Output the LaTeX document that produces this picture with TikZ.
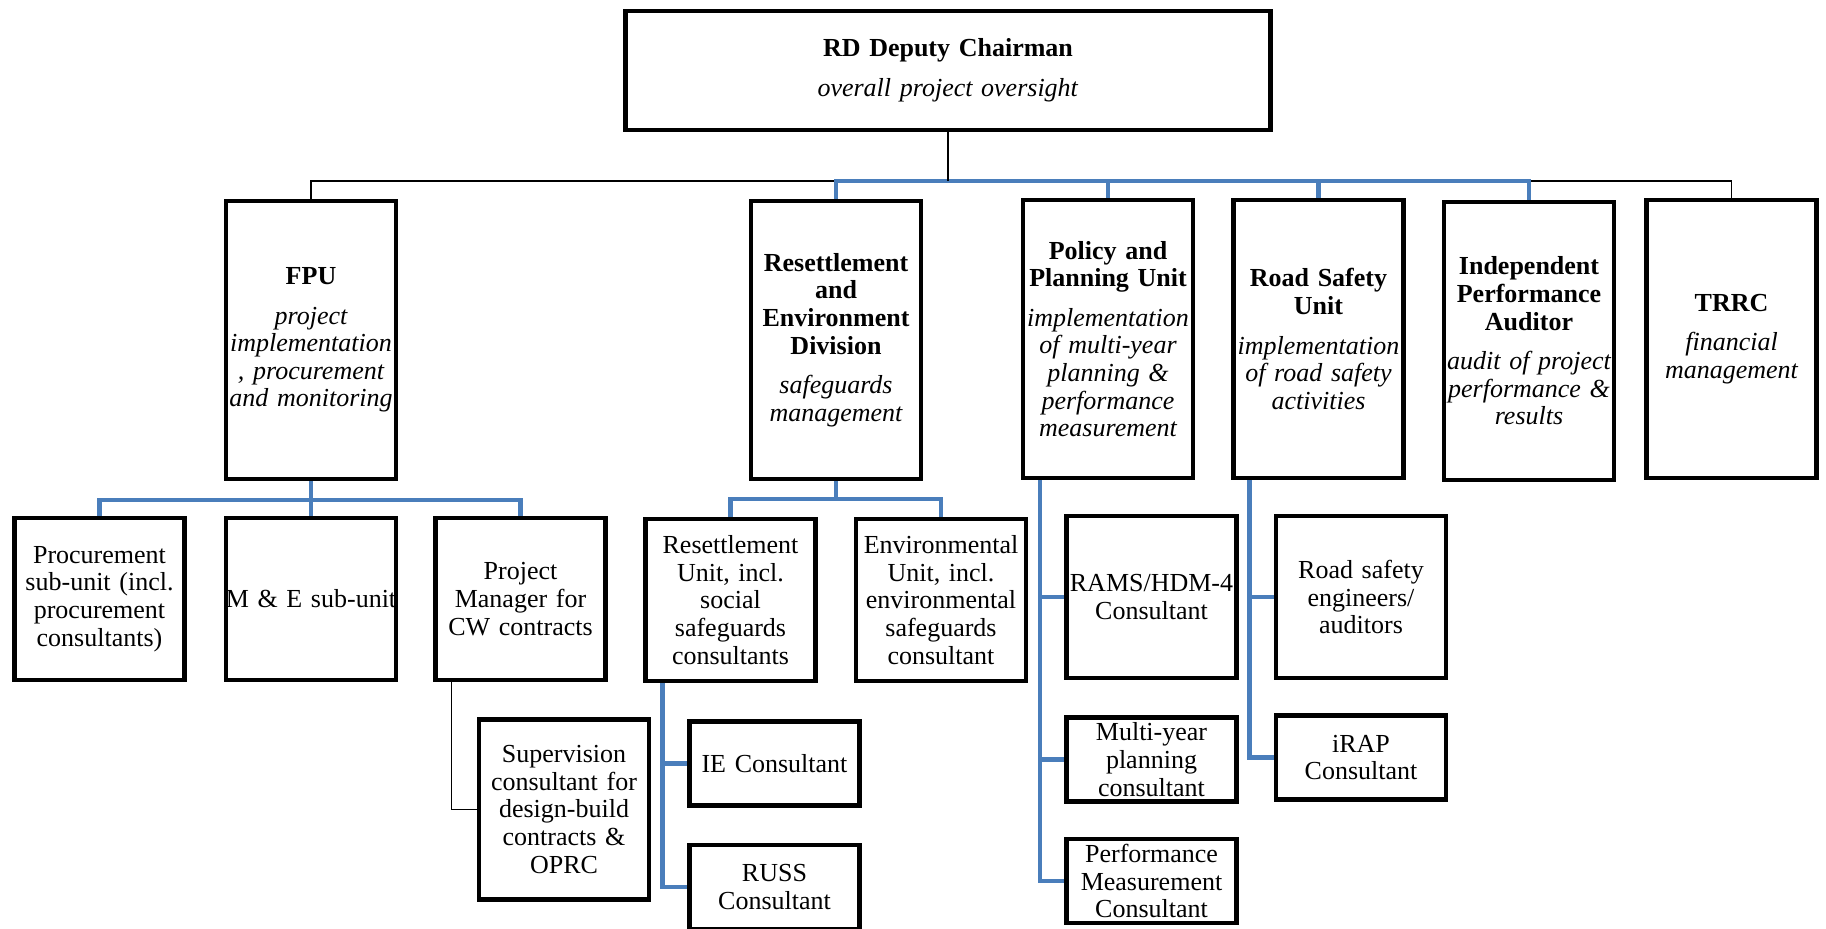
\documentclass[tikz,border=0pt]{standalone}
\usepackage{fontspec}
\setmainfont{Liberation Serif}
\usepackage{tikz}
\usetikzlibrary{positioning}
\definecolor{linkblue}{RGB}{74,126,187}

\begin{document}
\hyphenpenalty=10000
\exhyphenpenalty=10000
\begin{tikzpicture}[x=0.5pt, y=-0.5pt,
	font=\fontsize{13}{13.8}\selectfont,
	unitbox/.style={rectangle, draw, line width=2.25pt, minimum width=85pt, minimum height=139pt, text width=83pt, inner sep=1pt, align=center},
	subbox/.style={unitbox, minimum height=81pt},
	smallbox/.style={unitbox, minimum height=42pt, inner ysep=0.5pt},
	supbox/.style={unitbox, minimum height=90pt},
	blueline/.style={draw=linkblue, line width=2.25pt},
	thinline/.style={draw=black, line width=0.75pt}]
	\useasboundingbox (0,0) rectangle (1826,928);
	\clip (0,0) rectangle (1826,928);
	
	% Presidente
	\node[rectangle, draw, line width=2.25pt, minimum width=320pt, minimum height=59.5pt, text width=316pt, align=center] (chair) at (948,70.5) {\textbf{RD Deputy Chairman}\\[6pt]\textit{overall project oversight}};
	
	% Unita' di primo livello
	\node[unitbox] (fpu) at (311,340) {\textbf{FPU}\\[6pt]{\itshape project\\implementation\\, procurement\\and monitoring}};
	\node[unitbox] (red) at (836,340) {{\bfseries Resettlement\\and\\Environment\\Division}\\[6pt]{\itshape safeguards\\management}};
	\node[unitbox] (ppu) at (1108,339) {{\bfseries Policy and\\Planning Unit}\\[6pt]{\itshape implementation\\of multi-year\\planning \&\\performance\\measurement}};
	\node[unitbox] (rsu) at (1318.5,339) {{\bfseries Road Safety\\Unit}\\[6pt]{\itshape implementation\\of road safety\\activities}};
	\node[unitbox] (ipa) at (1529,341) {{\bfseries Independent\\Performance\\Auditor}\\[6pt]{\itshape audit of project\\performance \&\\results}};
	\node[unitbox] (trrc) at (1731.5,339) {\textbf{TRRC}\\[6pt]{\itshape financial\\management}};
	
	% Sotto-unita' FPU
	\node[subbox] (me) at (311,599) {\makebox[\linewidth][c]{M \& E sub-unit}};
	\node[subbox, left=18.5pt of me] (proc) {Procurement\\sub-unit (incl.\\procurement\\consultants)};
	\node[subbox, right=17.5pt of me] (pm) {Project\\Manager for\\CW contracts};
	\node[supbox, below=17.5pt of pm, xshift=21.75pt] (sup) {Supervision\\consultant for\\design-build\\contracts \&\\OPRC};
	
	% Sotto-unita' divisione
	\node[subbox] (resu) at (730.5,600) {Resettlement\\Unit, incl.\\social\\safeguards\\consultants};
	\node[subbox, right=18pt of resu] (envu) {Environmental\\Unit, incl.\\environmental\\safeguards\\consultant};
	\node[smallbox, below=18pt of resu, xshift=22pt] (ie) {IE Consultant};
	\node[smallbox, below=17.5pt of ie] (russ) {RUSS\\Consultant};
	
	% Consulenti pianificazione e sicurezza
	\node[subbox] (rams) at (1151.5,597) {RAMS/HDM-4\\Consultant};
	\node[smallbox, below=17.5pt of rams] (myp) {Multi-year\\planning\\consultant};
	\node[smallbox, below=16.5pt of myp] (pmc) {Performance\\Measurement\\Consultant};
	\node[subbox, right=17.5pt of rams] (rse) {Road safety\\engineers/\\auditors};
	\node[smallbox, below=16.5pt of rse] (irap) {iRAP\\Consultant};
	
	% Collegamenti primo livello
	\coordinate (topbus) at (948,181);
	\draw[thinline] (topbus) -| (fpu.north);
	\draw[thinline] (ipa.north |- topbus) -| (trrc.north);
	\draw[blueline] (red.north) |- (topbus);
	\draw[blueline] (topbus) -| (ipa.north);
	\draw[blueline] (ppu.north |- topbus) -- (ppu.north);
	\draw[blueline] (rsu.north |- topbus) -- (rsu.north);
	\draw[thinline, line width=1.2pt] (chair.south) -- (topbus);
	
	% Collegamenti secondo livello
	\coordinate (fpubus) at (311,500);
	\draw[blueline] (fpu.south) -- (me.north);
	\draw[blueline] (proc.north) |- (fpubus) -| (pm.north);
	\coordinate (redbus) at (836,499);
	\draw[blueline] (red.south) -- (redbus);
	\draw[blueline] (resu.north) |- (redbus) -| (envu.north);
	
	% Collegamenti laterali
	\draw[thinline] ([xshift=9pt]pm.south west) |- (sup.west);
	\draw[blueline] ([xshift=9.5pt]resu.south west) |- (ie.west);
	\draw[blueline] ([xshift=9.5pt]resu.south west) |- (russ.west);
	\draw[blueline] ([xshift=9.5pt]ppu.south west) |- (rams.west);
	\draw[blueline] ([xshift=9.5pt]ppu.south west) |- (myp.west);
	\draw[blueline] ([xshift=9.5pt]ppu.south west) |- (pmc.west);
	\draw[blueline] ([xshift=9pt]rsu.south west) |- (rse.west);
	\draw[blueline] ([xshift=9pt]rsu.south west) |- (irap.west);
\end{tikzpicture}
\end{document}
